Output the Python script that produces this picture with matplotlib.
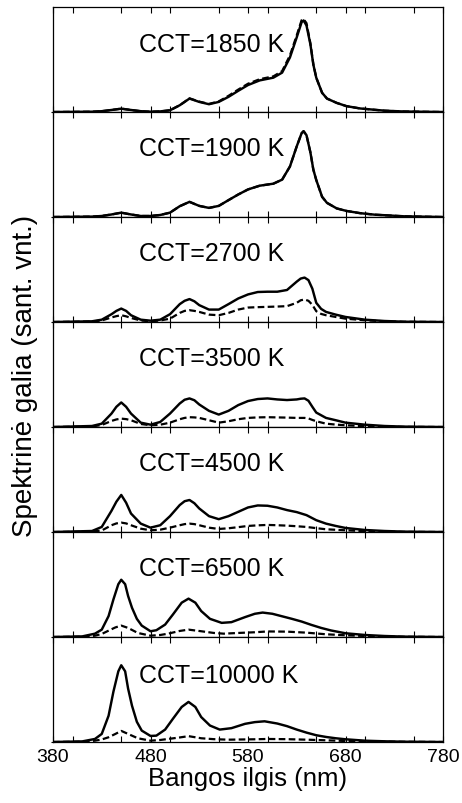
import matplotlib
matplotlib.use("Agg")
import matplotlib.pyplot as plt
from matplotlib.ticker import MultipleLocator

plt.rcParams['font.family'] = ['Liberation Sans', 'DejaVu Sans']

cct_labels = ["CCT=1850 K", "CCT=1900 K", "CCT=2700 K", "CCT=3500 K",
              "CCT=4500 K", "CCT=6500 K", "CCT=10000 K"]

# CCT 1850 K
wl_1850 = [380, 420, 430, 440, 450, 460, 470, 480, 490, 500, 510, 520, 530, 540, 550, 560, 570, 580, 592,
           606, 615, 623, 630, 635, 637, 640, 644, 647, 650, 656, 661, 671, 681, 695, 720, 740, 780]
s_1850 = [0, 0.3, 0.8, 2, 3.3, 2, 0.8, 0.3, 0.6, 1.7, 6.7, 13.3, 10, 7.7, 10, 15, 21, 26.7, 31.3,
          34, 39, 54, 74, 89, 90.7, 85.7, 67, 47, 34, 19, 13.3, 9, 5.8, 3.5, 1.3, 0.5, 0]
d_1850 = [0, 0.3, 0.8, 2, 3.3, 2, 0.8, 0.3, 0.6, 1.7, 6.7, 13.5, 10.3, 8, 10.5, 16, 22.2, 28, 32.5,
          35.3, 40.5, 56, 76, 91, 92, 88, 68, 47.5, 34, 19, 13.3, 9, 5.8, 3.5, 1.3, 0.5, 0]

# CCT 1900 K
wl_1900 = [380, 420, 430, 440, 450, 460, 470, 480, 490, 500, 510, 520, 530, 540, 550, 560, 570, 580, 592,
           606, 615, 623, 630, 635, 637, 640, 644, 647, 650, 656, 661, 671, 681, 695, 710, 740, 780]
s_1900 = [0, 0.4, 1, 2.5, 4.3, 2.5, 1, 1, 2, 4.3, 10.7, 15, 11, 9, 11, 16.7, 22.3, 27.3, 31,
          33, 37, 50, 70, 83, 85, 81, 64, 47, 36.7, 20, 14, 8.5, 6, 3.8, 2.3, 0.7, 0]
d_1900 = s_1900

# CCT 2700 K
wl_2700 = [380, 420, 430, 440, 445, 450, 455, 460, 470, 480, 490, 500, 510, 515, 520, 525, 530, 540, 550,
           560, 570, 580, 590, 600, 610, 620, 630, 634, 638, 642, 646, 650, 655, 660, 670, 680, 700, 720,
           740, 780]
s_2700 = [0, 0.7, 2.3, 7.7, 11, 13.3, 11, 6.7, 2.3, 1.3, 2.3, 7.7, 17.7, 21, 22.7, 20.5, 16.7, 12.3, 12.3,
          17.7, 23.3, 27.3, 29.7, 30, 30, 31.7, 40, 43, 44, 41.5, 33, 19, 13, 10, 7.3, 5, 2.3, 1,
          0.3, 0]
d_2700 = [0, 0.5, 1.5, 4.5, 5.8, 6.7, 5.6, 4, 1.5, 0.7, 1.5, 3.3, 9, 11, 11.7, 11, 10, 7.3, 6.7,
          9, 12.3, 14.3, 14.7, 15, 15.3, 15.7, 19, 21.5, 22.3, 21, 17, 10.7, 8, 6.7, 5, 3.3, 1.7, 0.7,
          0.2, 0]

# CCT 3500 K
wl_3500 = [380, 420, 430, 440, 445, 450, 455, 460, 470, 480, 490, 500, 510, 515, 520, 525, 530, 540, 550,
           560, 570, 580, 590, 600, 610, 620, 630, 634, 638, 642, 646, 650, 660, 670, 680, 700, 720, 740, 780]
s_3500 = [0, 1, 3.3, 13.3, 20, 24.3, 20, 13.3, 4.3, 2.3, 5, 13.3, 23.3, 27, 28.3, 26.5, 22.3, 16, 12.3,
          16, 21.7, 25.7, 27.7, 28.3, 27.3, 26.7, 27.3, 28, 28.3, 26, 20, 14.3, 9, 6.7, 4.3, 2.3, 1, 0.4, 0]
d_3500 = [0, 0.5, 2, 6, 7.5, 8.3, 7.8, 6.7, 3, 1.7, 2.3, 4.3, 7.7, 9, 9.7, 9.5, 9, 6.7, 4.3,
          5.7, 7.7, 9, 9.5, 9.7, 9.5, 9.3, 9, 9, 9, 8.5, 7, 5.7, 3.3, 2.4, 1.7, 0.8, 0.4, 0.1, 0]

# CCT 4500 K
wl_4500 = [380, 420, 430, 440, 445, 450, 455, 460, 470, 480, 490, 500, 510, 515, 520, 525, 530, 540, 550,
           560, 570, 580, 590, 600, 610, 620, 630, 640, 650, 660, 670, 680, 700, 720, 740, 780]
s_4500 = [0, 1, 5, 21, 30, 36.7, 29, 18.3, 8.3, 4.3, 6.7, 15.7, 26.7, 30.5, 31.7, 28.5, 23.3, 15.7, 12.7,
          15.7, 20, 24.3, 26.3, 26, 24.3, 21.7, 19.7, 16.7, 11.7, 8.3, 6, 4, 2, 1, 0.4, 0]
d_4500 = [0, 0.4, 1.5, 6.7, 8.5, 9.3, 8.5, 6.7, 3.3, 1.7, 2.3, 4.3, 6.7, 7.8, 8.3, 7.8, 6.7, 4.3, 3,
          3.7, 4.8, 6, 6.6, 7, 6.7, 6.3, 5.7, 5, 3.8, 2.7, 2.2, 1.7, 0.8, 0.4, 0.1, 0]

# CCT 6500 K
wl_6500 = [380, 410, 423, 430, 437, 442, 447, 450, 454, 457, 461, 466, 471, 480, 486, 495, 503, 512, 519,
           526, 532, 541, 553, 563, 577, 587, 595, 605, 615, 625, 635, 645, 655, 665, 680, 700, 720, 740, 780]
s_6500 = [0, 0.6, 3.3, 7.3, 20.7, 37.3, 52.3, 56.7, 52.3, 40.7, 29, 18, 11.3, 5.7, 6.7, 12.3, 22.3, 34, 38,
          34, 25.7, 18, 14, 14.7, 19.7, 23, 24.2, 23, 20.5, 18, 15.3, 12, 9, 6.5, 3.7, 2, 1, 0.4, 0]
wl_6500d = [380, 410, 423, 430, 437, 444, 450, 457, 467, 480, 490, 498, 510, 519, 532, 545, 555, 570, 587,
            600, 620, 640, 660, 680, 700, 720, 740, 780]
d_6500 = [0, 0.3, 1.3, 3, 6.3, 9.5, 11.3, 9, 4, 1.3, 2, 3.3, 6, 7.3, 5.7, 4, 3.3, 4, 4.7,
          5.5, 5.3, 4.3, 2.7, 1.7, 1, 0.5, 0.2, 0]

# CCT 10000 K
wl_10000 = [380, 410, 423, 430, 437, 442, 447, 450, 454, 457, 461, 466, 471, 480, 486, 495, 503, 512, 519,
            526, 532, 541, 551, 563, 577, 587, 597, 610, 620, 630, 640, 650, 660, 670, 680, 700, 720, 740, 780]
s_10000 = [0, 0.6, 3, 8, 26, 50, 70, 76, 70, 53, 36, 20, 11.3, 6, 6.3, 12.3, 23, 34.7, 39.7,
           34.7, 24.7, 16.3, 12.3, 13.7, 18, 19.7, 20.5, 18.3, 15.7, 12.3, 9.3, 6.7, 5, 3.7, 2.7, 1.3, 0.7, 0.3, 0]
wl_10000d = [380, 410, 423, 430, 437, 444, 450, 457, 467, 480, 490, 498, 510, 519, 532, 545, 560, 587,
             600, 620, 640, 660, 680, 700, 740, 780]
d_10000 = [0, 0.3, 1.3, 2.5, 4.7, 8, 11, 8, 3.7, 1.3, 2, 3, 4.5, 5.8, 3.7, 2.8, 2.3, 2.7,
           3, 2.8, 2.3, 1.7, 1, 0.5, 0.2, 0]

series = [(wl_1850, s_1850, wl_1850, d_1850), (wl_1900, s_1900, wl_1900, d_1900),
          (wl_2700, s_2700, wl_2700, d_2700), (wl_3500, s_3500, wl_3500, d_3500),
          (wl_4500, s_4500, wl_4500, d_4500), (wl_6500, s_6500, wl_6500d, d_6500),
          (wl_10000, s_10000, wl_10000d, d_10000)]

x_ticks = [380, 480, 580, 680, 780]
label_y = [60, 61.5, 61, 61, 61, 61.5, 59]

fig = plt.figure(figsize=(4.62, 8.04), dpi=100)
left, right = 53 / 462, 443 / 462
top, bottom = 1 - 8 / 804, 1 - 743 / 804
n = len(series)
h = (top - bottom) / n
axes = []
for i, ((wl, s, wld, d), lab) in enumerate(zip(series, cct_labels)):
    ax = fig.add_axes([left, top - (i + 1) * h, right - left, h])
    ax.plot(wld, d, color='black', lw=1.6, ls=(0, (3, 1.5)), solid_joinstyle='round')
    ax.plot(wl, s, color='black', lw=1.75, solid_joinstyle='round')
    ax.set_xlim(380, 780)
    ax.set_ylim(0, 104)
    ax.set_xticks(x_ticks)
    ax.xaxis.set_minor_locator(MultipleLocator(50))
    ax.tick_params(axis='x', which='both', direction='in', top=True, bottom=True,
                   length=4.5, width=0.8, labelsize=14, pad=4)
    ax.set_yticks([0])
    ax.tick_params(axis='y', which='both', direction='inout', left=True, right=False,
                   length=3, width=0.8, labelleft=False)
    for sp in ax.spines.values():
        sp.set_linewidth(0.9)
    if i < n - 1:
        ax.tick_params(axis='x', labelbottom=False)
    ax.text(468, label_y[i], lab, fontsize=18, ha='left', va='baseline')
    axes.append(ax)

axes[-1].set_xlabel("Bangos ilgis (nm)", fontsize=18.5, labelpad=1)
fig.text(0.054, (top + bottom) / 2, "Spektrinė galia (sant. vnt.)", rotation=90,
         fontsize=20, ha='center', va='center')

fig.savefig("out.png", dpi=100)
